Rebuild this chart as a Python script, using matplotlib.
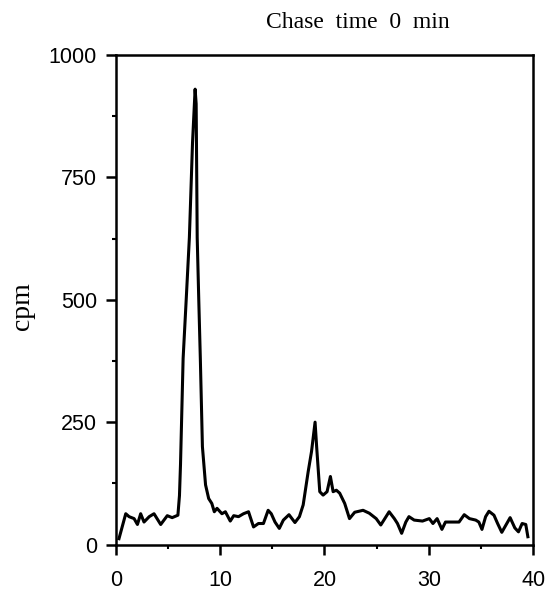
import matplotlib.pyplot as plt
from matplotlib.ticker import MultipleLocator

# -----------------------------
# Data
# -----------------------------
TITLE = "Chase  time  0  min"
Y_LABEL = "cpm"

TIME = [
    0.3, 0.95, 1.27, 1.75, 2.07, 2.38, 2.7, 3.2, 3.66, 4.3, 4.93, 5.4, 5.95,
    6.1, 6.2, 6.45, 6.75, 7.05, 7.35, 7.6, 7.7, 7.8, 7.95, 8.1, 8.3, 8.6, 8.9,
    9.2, 9.44, 9.7, 10.17, 10.5, 10.97, 11.3, 11.76, 12.24, 12.72, 13.2,
    13.67, 14.15, 14.6, 14.9, 15.26, 15.67, 16.06, 16.6, 17.17, 17.6, 17.96,
    18.44, 18.76, 19.1, 19.25, 19.55, 19.87, 20.25, 20.57, 20.83, 21.14,
    21.46, 21.94, 22.4, 22.9, 23.7, 24.3, 24.96, 25.4, 26.2, 26.7, 27.0,
    27.4, 27.8, 28.1, 28.6, 29.4, 30.05, 30.4, 30.8, 31.26, 31.6, 32.3,
    32.9, 33.4, 33.9, 34.5, 34.8, 35.1, 35.45, 35.77, 36.25, 36.6, 37.0,
    37.4, 37.8, 38.25, 38.6, 38.95, 39.3, 39.5,
]
CPM = [
    12, 63, 57, 53, 41, 63, 46, 57, 63, 41, 59, 55, 60,
    100, 164, 380, 502, 627, 820, 930, 900, 627, 500, 380, 200, 122, 94,
    84, 67, 74, 63, 67, 48, 59, 57, 63, 67, 36,
    43, 43, 70, 63, 46, 33, 50, 61, 45, 57, 81,
    149, 190, 250, 200, 108, 101, 108, 139, 108, 111,
    105, 84, 53, 66, 70, 64, 53, 40, 67, 53, 43,
    23, 46, 57, 50, 48, 53, 43, 53, 31, 46, 46,
    46, 61, 53, 50, 46, 31, 57, 68, 60, 43, 25,
    40, 55, 34, 26, 43, 41, 16,
]

X_TICKS = [0, 10, 20, 30, 40]
Y_TICKS = [0, 250, 500, 750, 1000]

# -----------------------------
# Plot
# -----------------------------
fig = plt.figure(figsize=(5.49, 5.90), dpi=100)
ax = fig.add_axes([0.211, 0.077, 0.760, 0.830])

ax.plot(TIME, CPM, color="black", linewidth=2.2, solid_joinstyle="round")

ax.set_xlim(0, 40)
ax.set_ylim(0, 1000)
ax.set_xticks(X_TICKS)
ax.set_yticks(Y_TICKS)
ax.xaxis.set_minor_locator(MultipleLocator(5))
ax.yaxis.set_minor_locator(MultipleLocator(125))

ax.tick_params(axis="both", which="major", direction="out", length=7.5,
               width=1.8, labelsize=15.5)
ax.tick_params(axis="y", which="major", pad=6)
ax.tick_params(axis="x", which="major", pad=11)
ax.tick_params(axis="both", which="minor", direction="out", length=3,
               width=1.5)
for lbl in ax.get_xticklabels() + ax.get_yticklabels():
    lbl.set_family("Liberation Sans")

for side in ["left", "right", "top", "bottom"]:
    ax.spines[side].set_linewidth(1.8)

fig.text(22 / 549, 1 - 306 / 590, Y_LABEL, family="Liberation Serif",
         fontsize=20, rotation=90, ha="center", va="center")
fig.text(358 / 549, 1 - 22 / 590, TITLE, family="Liberation Serif",
         fontsize=17, ha="center", va="center")

fig.savefig("out.png", dpi=100)
